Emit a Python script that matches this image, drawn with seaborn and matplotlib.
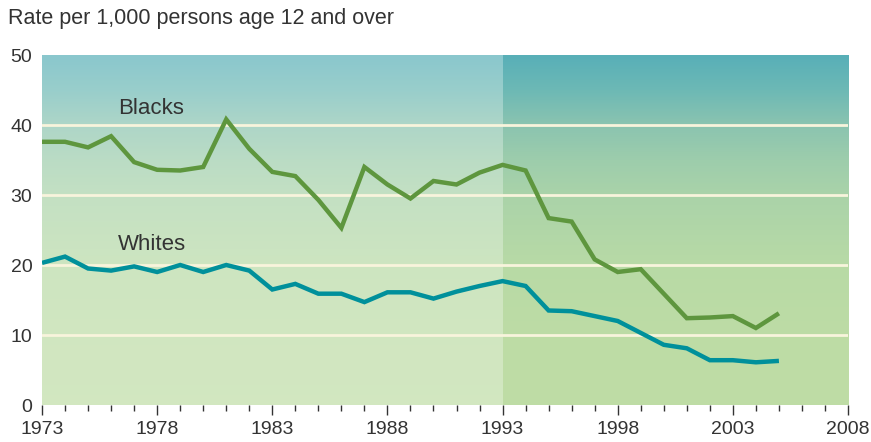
import numpy as np
import pandas as pd
import matplotlib
matplotlib.use("Agg")
import matplotlib.pyplot as plt
import seaborn as sns
from matplotlib.colors import to_rgb

# ---------------- data ----------------
years = list(range(1973, 2006))
blacks = [37.6, 37.6, 36.8, 38.4, 34.7, 33.6, 33.5, 34.0, 40.8, 36.6,
          33.3, 32.7, 29.3, 25.3, 34.0, 31.5, 29.5, 32.0, 31.5, 33.2,
          34.3, 33.5, 26.7, 26.2, 20.8, 19.0, 19.4, 15.9, 12.4, 12.5,
          12.7, 11.0, 13.1]
whites = [20.3, 21.2, 19.5, 19.2, 19.8, 19.0, 20.0, 19.0, 20.0, 19.2,
          16.5, 17.3, 15.9, 15.9, 14.7, 16.1, 16.1, 15.2, 16.2, 17.0,
          17.7, 17.0, 13.5, 13.4, 12.7, 12.0, 10.3, 8.6, 8.1, 6.4,
          6.4, 6.1, 6.3]
groups = ["Blacks", "Whites"]
major_ticks = list(range(1973, 2009, 5))
y_ticks = [0, 10, 20, 30, 40, 50]
title = "Rate per 1,000 persons age 12 and over"

sns.set_theme(style="white")
plt.rcParams["font.family"] = ["Liberation Sans", "DejaVu Sans"]

fig = plt.figure(figsize=(8.71, 4.42), dpi=100)
ax = fig.add_axes([42 / 871, 1 - 405 / 442, 806 / 871, 350 / 442])

# ---------------- background gradients ----------------
stops_v = [50, 45, 40, 35, 30, 20, 10, 0]
stops_c = ["#58afb8", "#6db9b5", "#8bc4b0", "#9dcdac", "#aad3a9",
           "#b8daa6", "#bddca5", "#bfdda6"]
vals = np.linspace(50, 0, 500)
rgb = np.array([to_rgb(c) for c in stops_c])
sv = np.array(stops_v[::-1], dtype=float)
sc = rgb[::-1]
img = np.stack([np.interp(vals, sv, sc[:, k]) for k in range(3)], axis=1)[:, None, :]
img_left = img * 0.7 + 0.3

ax.imshow(img_left, extent=[1973, 1993, 0, 50], aspect="auto", zorder=0,
          interpolation="bilinear")
ax.imshow(img, extent=[1993, 2008, 0, 50], aspect="auto", zorder=0,
          interpolation="bilinear")

for y in [10, 20, 30, 40]:
    ax.axhline(y, color="#f8f4dc", lw=2.0, zorder=1)

# ---------------- lines ----------------
df = pd.DataFrame({
    "Year": years * 2,
    "Rate": blacks + whites,
    "Group": [groups[0]] * len(years) + [groups[1]] * len(years),
})
sns.lineplot(data=df, x="Year", y="Rate", hue="Group",
             palette={"Blacks": "#5e963e", "Whites": "#00909b"},
             linewidth=3.2, legend=False, ax=ax, zorder=3)
for ln in ax.lines[4:]:
    ln.set_solid_capstyle("butt")
    ln.set_solid_joinstyle("miter")

ax.text(1976.3, 42.4, "Blacks", fontsize=16, color="#333333", va="center", ha="left", zorder=4)
ax.text(1976.3, 23.0, "Whites", fontsize=16, color="#333333", va="center", ha="left", zorder=4)

# ---------------- axes ----------------
ax.set_xlim(1973, 2008)
ax.set_ylim(0, 50)
ax.set_xticks(major_ticks)
ax.set_xticks(list(range(1973, 2009)), minor=True)
ax.set_yticks(y_ticks)
ax.set_xlabel("")
ax.set_ylabel("")
for s in ax.spines.values():
    s.set_visible(False)
ax.tick_params(axis="x", which="major", length=7.5, width=1.0, color="#333333",
               labelsize=14, labelcolor="#333333", pad=4, bottom=True)
ax.tick_params(axis="x", which="minor", length=4.5, width=1.0, color="#333333",
               bottom=True)
ax.tick_params(axis="y", length=0, labelsize=14, labelcolor="#333333", pad=7)
ax.grid(False)

fig.text(8 / 871, 1 - 8 / 442, title, fontsize=15.5, color="#333333",
         ha="left", va="top")

fig.savefig("out.png", dpi=100)
